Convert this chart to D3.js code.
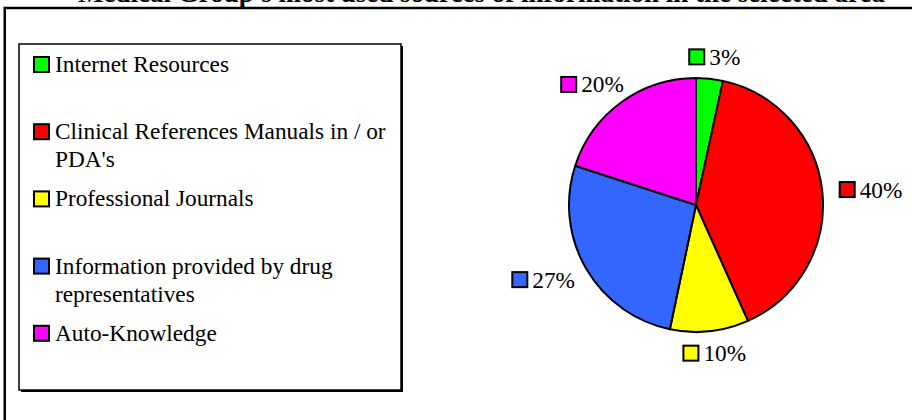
<!DOCTYPE html>
<html>
<head>
<meta charset="utf-8">
<script src="https://cdn.jsdelivr.net/npm/d3@7"></script>
<style>
  html, body { margin: 0; padding: 0; background: #fff; }
  svg { display: block; }
  text { font-family: "Liberation Serif", "Times New Roman", serif; }
</style>
</head>
<body>
<svg id="chart" width="912" height="420"></svg>
<script>
// ---- data ----
const titleText = "Medical Group's most used sources of information in the selected area";
const categories = [
  "Internet Resources",
  "Clinical References Manuals in / or PDA's",
  "Professional Journals",
  "Information provided by drug representatives",
  "Auto-Knowledge"
];
const values = [3.4, 39.9, 10.0, 26.7, 20.0];
const colors = ["#00FF00", "#FF0000", "#FFFF00", "#3366FF", "#FF00FF"];

// ---- layout ----
const W = 912, H = 420;
const svg = d3.select("#chart");
const fontSize = 23.3;

// outer frame (extends past right/bottom edge)
svg.append("rect")
  .attr("x", 4.75).attr("y", 8)
  .attr("width", W + 20).attr("height", H + 20)
  .attr("fill", "#fff").attr("stroke", "#000").attr("stroke-width", 2.5);

// title (mostly clipped at top)
svg.append("text")
  .attr("x", 885).attr("y", 2)
  .attr("text-anchor", "end")
  .attr("font-size", 27).attr("font-weight", "bold")
  .text(titleText);

// ---- legend ----
const lg = { x: 19, y: 44, w: 382, h: 346 };
svg.append("rect")
  .attr("x", lg.x + 2).attr("y", lg.y + 2)
  .attr("width", lg.w).attr("height", lg.h)
  .attr("fill", "#000");
svg.append("rect")
  .attr("x", lg.x).attr("y", lg.y)
  .attr("width", lg.w).attr("height", lg.h)
  .attr("fill", "#fff").attr("stroke", "#000").attr("stroke-width", 1.5);

const slot = d3.scaleBand().domain(categories).range([lg.y + 4, lg.y + lg.h - 6]);
const lineH = 28;
const maxTextW = 345;

const items = svg.append("g").selectAll("g").data(categories).join("g")
  .attr("transform", d => `translate(0,${slot(d) + 24})`);

items.append("rect")
  .attr("x", 34).attr("y", -15).attr("width", 15).attr("height", 15)
  .attr("fill", (d, i) => colors[i]).attr("stroke", "#000").attr("stroke-width", 2);

items.each(function(d) {
  const g = d3.select(this);
  const t = g.append("text").attr("x", 55).attr("y", 0).attr("font-size", fontSize);
  const words = d.split(" ");
  let line = [];
  let ts = t.append("tspan").attr("x", 55).attr("dy", 0);
  words.forEach(w => {
    line.push(w);
    ts.text(line.join(" "));
    if (ts.node().getComputedTextLength() > maxTextW && line.length > 1) {
      line.pop();
      ts.text(line.join(" "));
      line = [w];
      ts = t.append("tspan").attr("x", 55).attr("dy", lineH).text(w);
    }
  });
});

// ---- pie ----
const cx = 696, cy = 205, r = 127;
const pie = d3.pie().sort(null).value(d => d)(values);
const arc = d3.arc().innerRadius(0).outerRadius(r);
const pg = svg.append("g").attr("transform", `translate(${cx},${cy})`);
pg.selectAll("path").data(pie).join("path")
  .attr("d", arc)
  .attr("fill", (d, i) => colors[i])
  .attr("stroke", "#000").attr("stroke-width", 2).attr("stroke-linejoin", "round");

// data labels
const fmt = d => d3.format(".0f")(d) + "%";
const Rx = 176, Ry = 149;
const lab = pg.selectAll("g.lab").data(pie).join("g").attr("class", "lab");
lab.each(function(d, i) {
  const g = d3.select(this);
  const a = (d.startAngle + d.endAngle) / 2;
  const t = g.append("text").attr("font-size", fontSize).attr("x", 20).attr("y", 0).text(fmt(d.value));
  const tw = t.node().getComputedTextLength();
  g.insert("rect", "text")
    .attr("x", 0).attr("y", -15.5).attr("width", 15).attr("height", 15)
    .attr("fill", colors[i]).attr("stroke", "#000").attr("stroke-width", 2);
  const w = 20 + tw;
  const mx = Rx * Math.sin(a), my = -Ry * Math.cos(a);
  g.attr("transform", `translate(${mx - w / 2},${my + 8})`);
});
</script>
</body>
</html>
